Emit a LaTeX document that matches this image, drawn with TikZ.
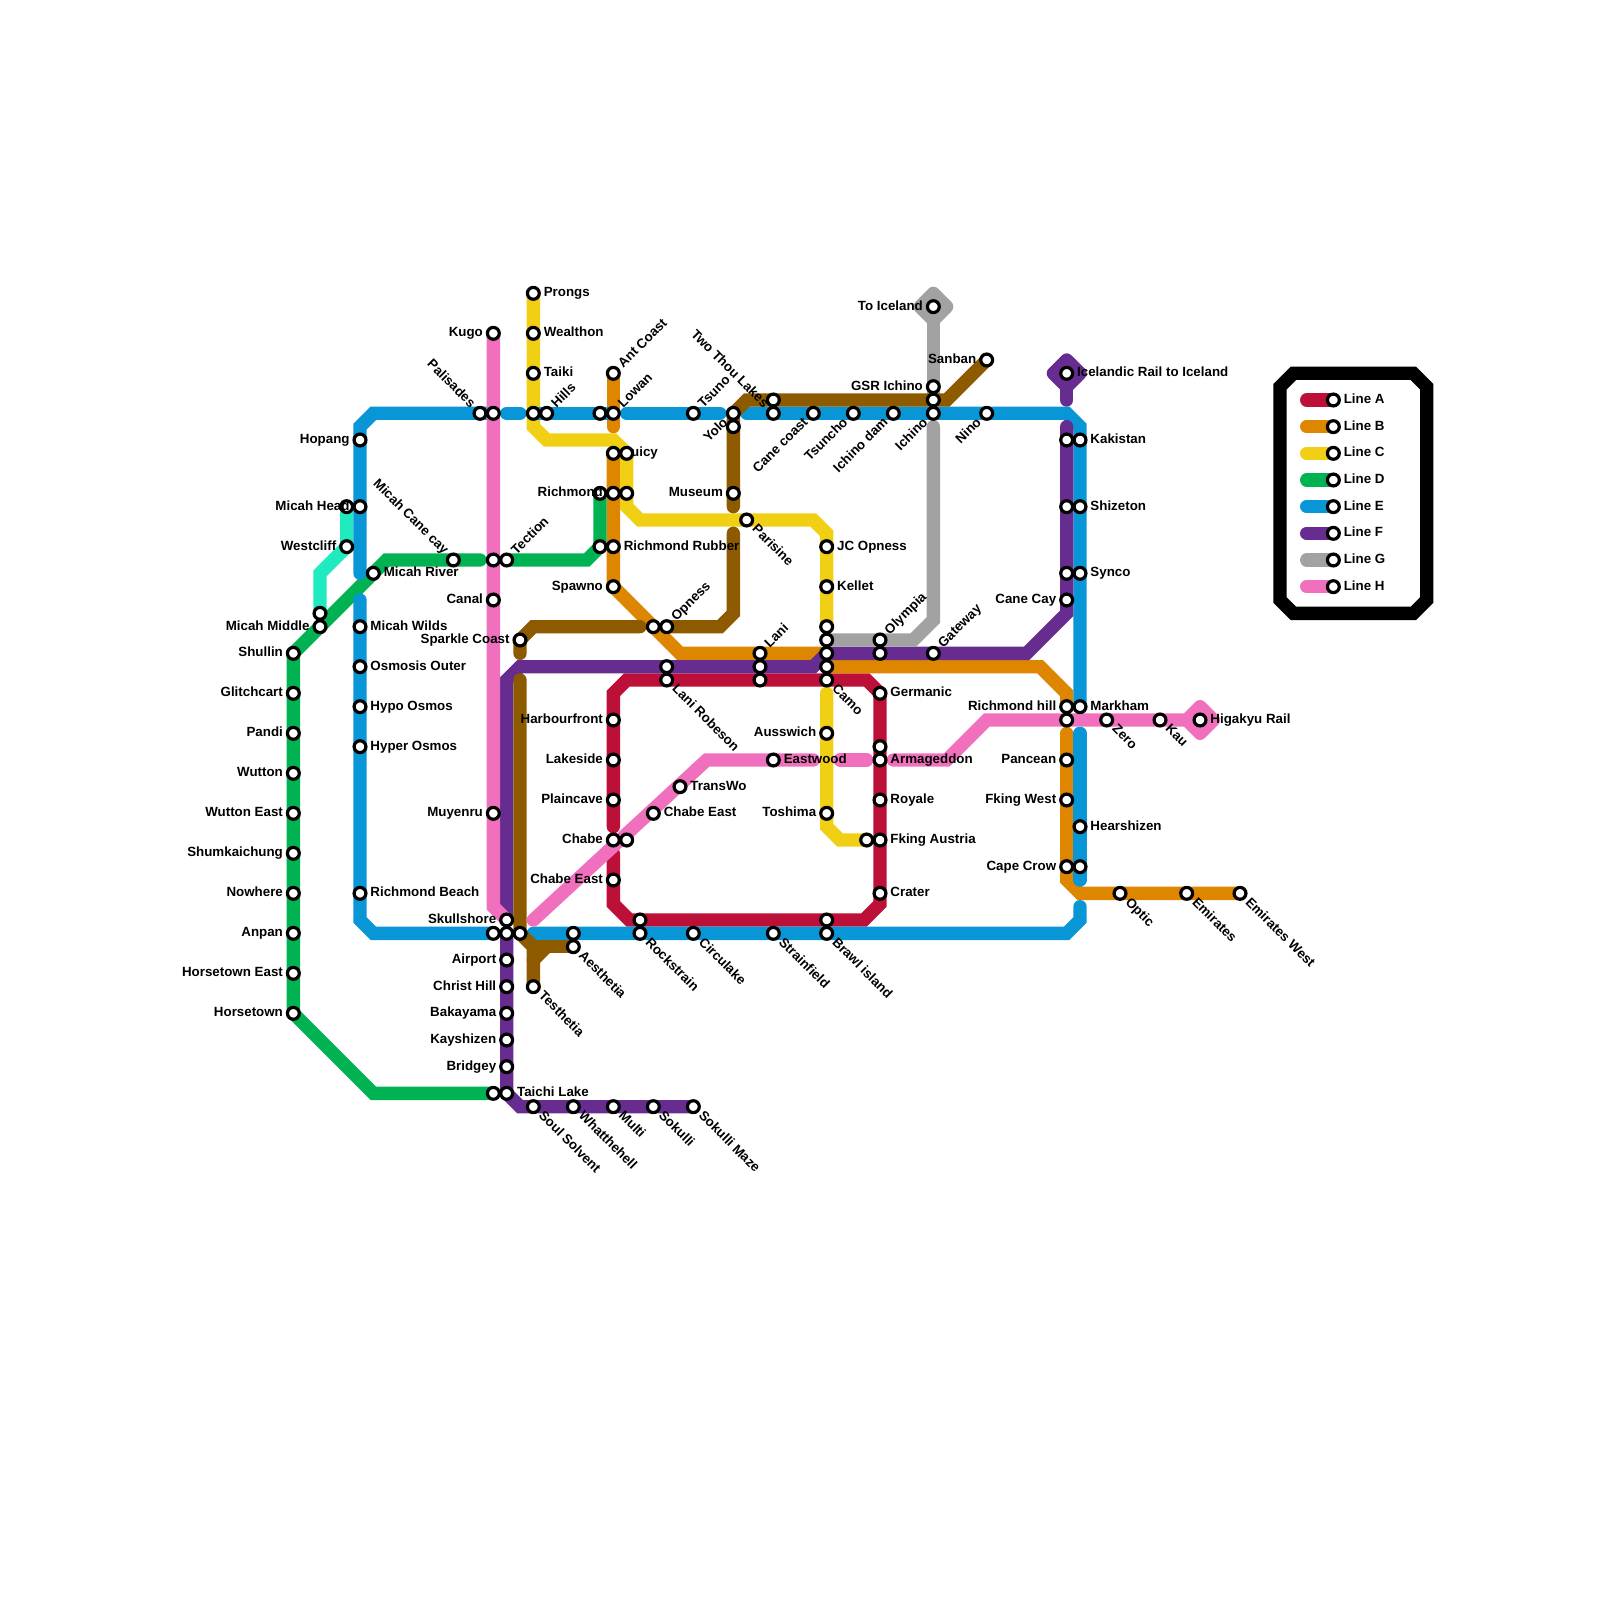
\documentclass[tikz,border=0pt]{standalone}
\usepackage{fontspec}
\setmainfont{Liberation Sans}
\usetikzlibrary{backgrounds}
\definecolor{cA}{HTML}{BD1038}
\definecolor{cB}{HTML}{DF8600}
\definecolor{cC}{HTML}{F1CF15}
\definecolor{cD}{HTML}{00B251}
\definecolor{cE}{HTML}{0896D7}
\definecolor{cF}{HTML}{662C90}
\definecolor{cG}{HTML}{A2A2A2}
\definecolor{cH}{HTML}{F170BE}
\definecolor{cT}{HTML}{20EAC0}
\definecolor{cK}{HTML}{8E5A00}
\tikzset{
  station/.style={circle,draw=black,fill=white,line width=.048cm,minimum size=.178cm,inner sep=0pt},
  labbase/.style={inner sep=0pt,text=black,font=\bfseries\fontsize{5.69}{6.8}\selectfont},
  labR/.style={labbase,anchor=base west},
  labL/.style={labbase,anchor=base east},
  labUR/.style={labbase,anchor=base west,rotate=45},
  labDR/.style={labbase,anchor=base west,rotate=-45},
  labUL/.style={labbase,anchor=base east,rotate=-45},
  labDL/.style={labbase,anchor=base east,rotate=45},
  ln/.style={line width=.2cm,line cap=round,miter limit=4},
  dia/.style={line width=.2cm,line join=round},
}
\newcommand{\stgen}[7]{\node[station](#1) at (#2,#3){}; \node[#4](#1t) at ([xshift=#5cm,yshift=#6cm]#1.center){#7};}
\newcommand{\stN}[3]{\node[station](#1) at (#2,#3){};}
\newcommand{\stR}[4]{\stgen{#1}{#2}{#3}{labR}{.15}{-.054}{#4}}
\newcommand{\stL}[4]{\stgen{#1}{#2}{#3}{labL}{-.15}{-.054}{#4}}
\newcommand{\stUR}[4]{\stgen{#1}{#2}{#3}{labUR}{.144}{.068}{#4}}
\newcommand{\stUL}[4]{\stgen{#1}{#2}{#3}{labUL}{-.144}{.068}{#4}}
\newcommand{\stDR}[4]{\stgen{#1}{#2}{#3}{labDR}{.068}{-.144}{#4}}
\newcommand{\stDL}[4]{\stgen{#1}{#2}{#3}{labDL}{-.068}{-.144}{#4}}
\begin{document}
\begin{tikzpicture}[x=.2cm,y=-.2cm]
\path[use as bounding box] (0,0) rectangle (120,120);
% stations: line H
\stL{kugo}{37}{25}{Kugo}
\stN{palE}{37}{31}
\stN{tecW}{37}{42}
\stL{canal}{37}{45}{Canal}
\stL{muyenru}{37}{61}{Muyenru}
% line C
\stR{prongs}{40}{22}{Prongs}
\stR{wealthon}{40}{25}{Wealthon}
\stR{taiki}{40}{28}{Taiki}
\stN{hillsW}{40}{31}
\stUR{hills}{41}{31}{Hills}
\stUL{palisades}{36}{31}{Palisades}
% line B top
\stN{lowanW}{45}{31}
\stUR{antcoast}{46}{28}{Ant Coast}
\stUR{lowan}{46}{31}{Lowan}
\stR{juicyB}{46}{34}{Juicy}
\stN{juicyC}{47}{34}
\stN{richD}{45}{37}
\stL{richmond}{46}{37}{Richmond}
\stN{richC}{47}{37}
\stN{rubberD}{45}{41}
\stR{rubber}{46}{41}{Richmond Rubber}
\stL{spawno}{46}{44}{Spawno}
% line E left and teal
\stL{hopang}{27}{33}{Hopang}
\stN{headT}{26}{38}
\stL{headE}{27}{38}{Micah Head}
\stL{westcliff}{26}{41}{Westcliff}
\stUL{micahcane}{34}{42}{Micah Cane cay}
\stUR{tection}{38}{42}{Tection}
\stR{micahriver}{28}{43}{Micah River}
\stN{midT}{24}{46}
\stL{micahmid}{24}{47}{Micah Middle}
\stR{micahwilds}{27}{47}{Micah Wilds}
\stR{osmosis}{27}{50}{Osmosis Outer}
\stR{hypo}{27}{53}{Hypo Osmos}
\stR{hyper}{27}{56}{Hyper Osmos}
\stR{rbeach}{27}{67}{Richmond Beach}
% line D
\stL{shullin}{22}{49}{Shullin}
\stL{glitch}{22}{52}{Glitchcart}
\stL{pandi}{22}{55}{Pandi}
\stL{wutton}{22}{58}{Wutton}
\stL{wuttone}{22}{61}{Wutton East}
\stL{shum}{22}{64}{Shumkaichung}
\stL{nowhere}{22}{67}{Nowhere}
\stL{anpan}{22}{70}{Anpan}
\stL{horsee}{22}{73}{Horsetown East}
\stL{horse}{22}{76}{Horsetown}
% brown
\stL{sparkle}{39}{48}{Sparkle Coast}
\stN{opW}{49}{47}
\stUR{opness}{50}{47}{Opness}
\stUR{tsuno}{52}{31}{Tsuno}
\stDL{yolo}{55}{31}{Yolo}
\stN{yoloS}{55}{32}
\stL{museum}{55}{37}{Museum}
\stDR{parisine}{56}{39}{Parisine}
\stN{twoN}{58}{30}
\stUL{twothou}{58}{31}{Two Thou Lakes}
\stDL{canecoast}{61}{31}{Cane coast}
\stDL{tsuncho}{64}{31}{Tsuncho}
\stDL{ichinodam}{67}{31}{Ichino dam}
\stL{toiceland}{70}{23}{To Iceland}
\stL{gsr}{70}{29}{GSR Ichino}
\stN{ichM}{70}{30}
\stDL{ichino}{70}{31}{Ichino}
\stL{sanban}{74}{27}{Sanban}
\stDL{nino}{74}{31}{Nino}
% centre column
\stR{jcop}{62}{41}{JC Opness}
\stR{kellet}{62}{44}{Kellet}
\stN{ctrA}{62}{47}
\stN{ctrB}{62}{48}
\stN{ctrC}{62}{49}
\stN{ctrD}{62}{50}
\stDR{camo}{62}{51}{Camo}
\stUR{olympia}{66}{48}{Olympia}
\stN{olyS}{66}{49}
\stUR{gateway}{70}{49}{Gateway}
\stUR{lani}{57}{49}{Lani}
\stN{laniM}{57}{50}
\stN{laniS}{57}{51}
\stN{robN}{50}{50}
\stDR{robeson}{50}{51}{Lani Robeson}
\stR{germanic}{66}{52}{Germanic}
\stL{ausswich}{62}{55}{Ausswich}
\stR{eastwood}{58}{57}{Eastwood}
\stN{armN}{66}{56}
\stR{armageddon}{66}{57}{Armageddon}
\stR{transwo}{51}{59}{TransWo}
\stR{chabeeH}{49}{61}{Chabe East}
\stL{harbour}{46}{54}{Harbourfront}
\stL{lakeside}{46}{57}{Lakeside}
\stL{plaincave}{46}{60}{Plaincave}
\stL{chabe}{46}{63}{Chabe}
\stN{chabeE}{47}{63}
\stL{chabeeA}{46}{66}{Chabe East}
\stL{toshima}{62}{61}{Toshima}
\stN{fkC}{65}{63}
\stR{fking}{66}{63}{Fking Austria}
\stR{royale}{66}{60}{Royale}
\stR{crater}{66}{67}{Crater}
\stN{rockN}{48}{69}
\stDR{rockstrain}{48}{70}{Rockstrain}
\stDR{circulake}{52}{70}{Circulake}
\stDR{strainfield}{58}{70}{Strainfield}
\stN{brawlN}{62}{69}
\stDR{brawl}{62}{70}{Brawl island}
% south-west
\stL{skullshore}{38}{69}{Skullshore}
\stN{sbW}{37}{70}
\stN{sbM}{38}{70}
\stN{sbE}{39}{70}
\stN{aesN}{43}{70}
\stDR{aesthetia}{43}{71}{Aesthetia}
\stDR{testhetia}{40}{74}{Testhetia}
\stL{airport}{38}{72}{Airport}
\stL{christ}{38}{74}{Christ Hill}
\stL{bakayama}{38}{76}{Bakayama}
\stL{kayshizen}{38}{78}{Kayshizen}
\stL{bridgey}{38}{80}{Bridgey}
\stN{taichiW}{37}{82}
\stR{taichi}{38}{82}{Taichi Lake}
\stDR{soul}{40}{83}{Soul Solvent}
\stDR{whatthe}{43}{83}{Whatthehell}
\stDR{multi}{46}{83}{Multi}
\stDR{sokulli}{49}{83}{Sokulli}
\stDR{sokullim}{52}{83}{Sokulli Maze}
% east
\stR{icelandic}{80}{28}{Icelandic Rail to Iceland}
\stN{kakF}{80}{33}
\stR{kakistan}{81}{33}{Kakistan}
\stN{shiF}{80}{38}
\stR{shizeton}{81}{38}{Shizeton}
\stN{synF}{80}{43}
\stR{synco}{81}{43}{Synco}
\stL{canecay}{80}{45}{Cane Cay}
\stL{richhill}{80}{53}{Richmond hill}
\stR{markham}{81}{53}{Markham}
\stN{pinkB}{80}{54}
\stDR{zero}{83}{54}{Zero}
\stDR{kau}{87}{54}{Kau}
\stR{higakyu}{90}{54}{Higakyu Rail}
\stL{pancean}{80}{57}{Pancean}
\stL{fkwest}{80}{60}{Fking West}
\stR{hearshizen}{81}{62}{Hearshizen}
\stL{capecrow}{80}{65}{Cape Crow}
\stN{capeE}{81}{65}
\stDR{optic}{84}{67}{Optic}
\stDR{emirates}{89}{67}{Emirates}
\stDR{emiratesw}{93}{67}{Emirates West}
% legend
\stR{legA}{100}{30}{Line A}
\stR{legB}{100}{32}{Line B}
\stR{legC}{100}{34}{Line C}
\stR{legD}{100}{36}{Line D}
\stR{legE}{100}{38}{Line E}
\stR{legF}{100}{40}{Line F}
\stR{legG}{100}{42}{Line G}
\stR{legH}{100}{44}{Line H}
\coordinate (swA) at (98,30);
\coordinate (swB) at (98,32);
\coordinate (swC) at (98,34);
\coordinate (swD) at (98,36);
\coordinate (swE) at (98,38);
\coordinate (swF) at (98,40);
\coordinate (swG) at (98,42);
\coordinate (swH) at (98,44);
\begin{pgfonlayer}{background}
\draw[line width=.2cm,draw=black,fill=white] (96,29)--(97,28)--(106,28)--(107,29)--(107,45)--(106,46)--(97,46)--(96,45)--cycle;
\draw[ln,cA] (swA)--(legA.center);
\draw[ln,cB] (swB)--(legB.center);
\draw[ln,cC] (swC)--(legC.center);
\draw[ln,cD] (swD)--(legD.center);
\draw[ln,cE] (swE)--(legE.center);
\draw[ln,cF] (swF)--(legF.center);
\draw[ln,cG] (swG)--(legG.center);
\draw[ln,cH] (swH)--(legH.center);
% teal
\draw[ln,cT] (headT.center)--(westcliff.center)--(24,43)--(midT.center);
% line A
\draw[ln,cA] (46,62)--(46,52)--(47,51)--(65,51)--(germanic.center)--(66,67.8)--(64.8,69)--(47.2,69)--(46,67.8)--(46,64);
% line B
\draw[ln,cB] (antcoast.center)--(46,32);
\draw[ln,cB] (juicyB.center)--(spawno.center)--(51,49)--(ctrC.center);
\draw[ln,cB] (ctrD.center)--(78,50)--(80,52)--(richhill.center);
\draw[ln,cB] (80,55)--(80,66)--(81,67)--(emiratesw.center);
% line C
\draw[ln,cC] (prongs.center)--(40,32)--(41,33)--(46,33)--(juicyC.center)--(47,38)--(48,39)--(61,39)--(62,40)--(ctrA.center);
\draw[ln,cC] (62,52)--(62,62)--(63,63)--(fkC.center);
% line D
\draw[ln,cD] (taichiW.center)--(28,82)--(horse.center)--(shullin.center)--(29,42)--(36,42);
\draw[ln,cD] (tection.center)--(44,42)--(rubberD.center)--(richD.center);
% line E
\draw[ln,cE] (palE.center)--(28,31)--(27,32)--(27,43);
\draw[ln,cE] (38,31)--(39,31);
\draw[ln,cE] (hillsW.center)--(lowan.center);
\draw[ln,cE] (47,31)--(54,31);
\draw[ln,cE] (56,31)--(80,31)--(81,32)--(markham.center);
\draw[ln,cE] (81,55)--(81,66);
\draw[ln,cE] (27,45)--(27,69)--(28,70)--(sbW.center);
\draw[ln,cE] (40,70)--(80,70)--(81,69)--(81,68);
% line F
\draw[dia,cF,fill=cF] (80,27)--(81,28)--(80,29)--(79,28)--cycle;
\draw[ln,cF] (icelandic.center)--(80,30);
\draw[ln,cF] (80,32)--(canecay.center)--(80,46)--(77,49)--(ctrC.center)--(61,50)--(39,50)--(38,51)--(skullshore.center);
\draw[ln,cF] (sbM.center)--(taichi.center)--(39,83)--(sokullim.center);
% line G
\draw[dia,cG,fill=cG] (70,22)--(71,23)--(70,24)--(69,23)--cycle;
\draw[ln,cG] (toiceland.center)--(ichM.center);
\draw[ln,cG] (70,32)--(70,46.5)--(68.5,48)--(ctrB.center);
% brown
\draw[ln,cK] (39,49)--(sparkle.center)--(40,47)--(48,47);
\draw[ln,cK] (opness.center)--(54,47)--(55,46)--(55,40);
\draw[ln,cK] (55,38)--(yolo.center)--(56,30)--(71,30)--(sanban.center);
\draw[ln,cK] (39,51)--(sbE.center)--(40,71)--(testhetia.center);
\draw[ln,cK] (40,71)--(aesthetia.center);
\draw[ln,cK] (40,72)--(41,71);
% line H
\draw[dia,cH,fill=cH] (90,53)--(91,54)--(90,55)--(89,54)--cycle;
\draw[ln,cH] (kugo.center)--(37,68)--(skullshore.center);
\draw[ln,cH] (40,69)--(53,57)--(61,57);
\draw[ln,cH] (63,57)--(65,57);
\draw[ln,cH] (67,57)--(71,57)--(74,54)--(higakyu.center);
\end{pgfonlayer}
\end{tikzpicture}
\end{document}
